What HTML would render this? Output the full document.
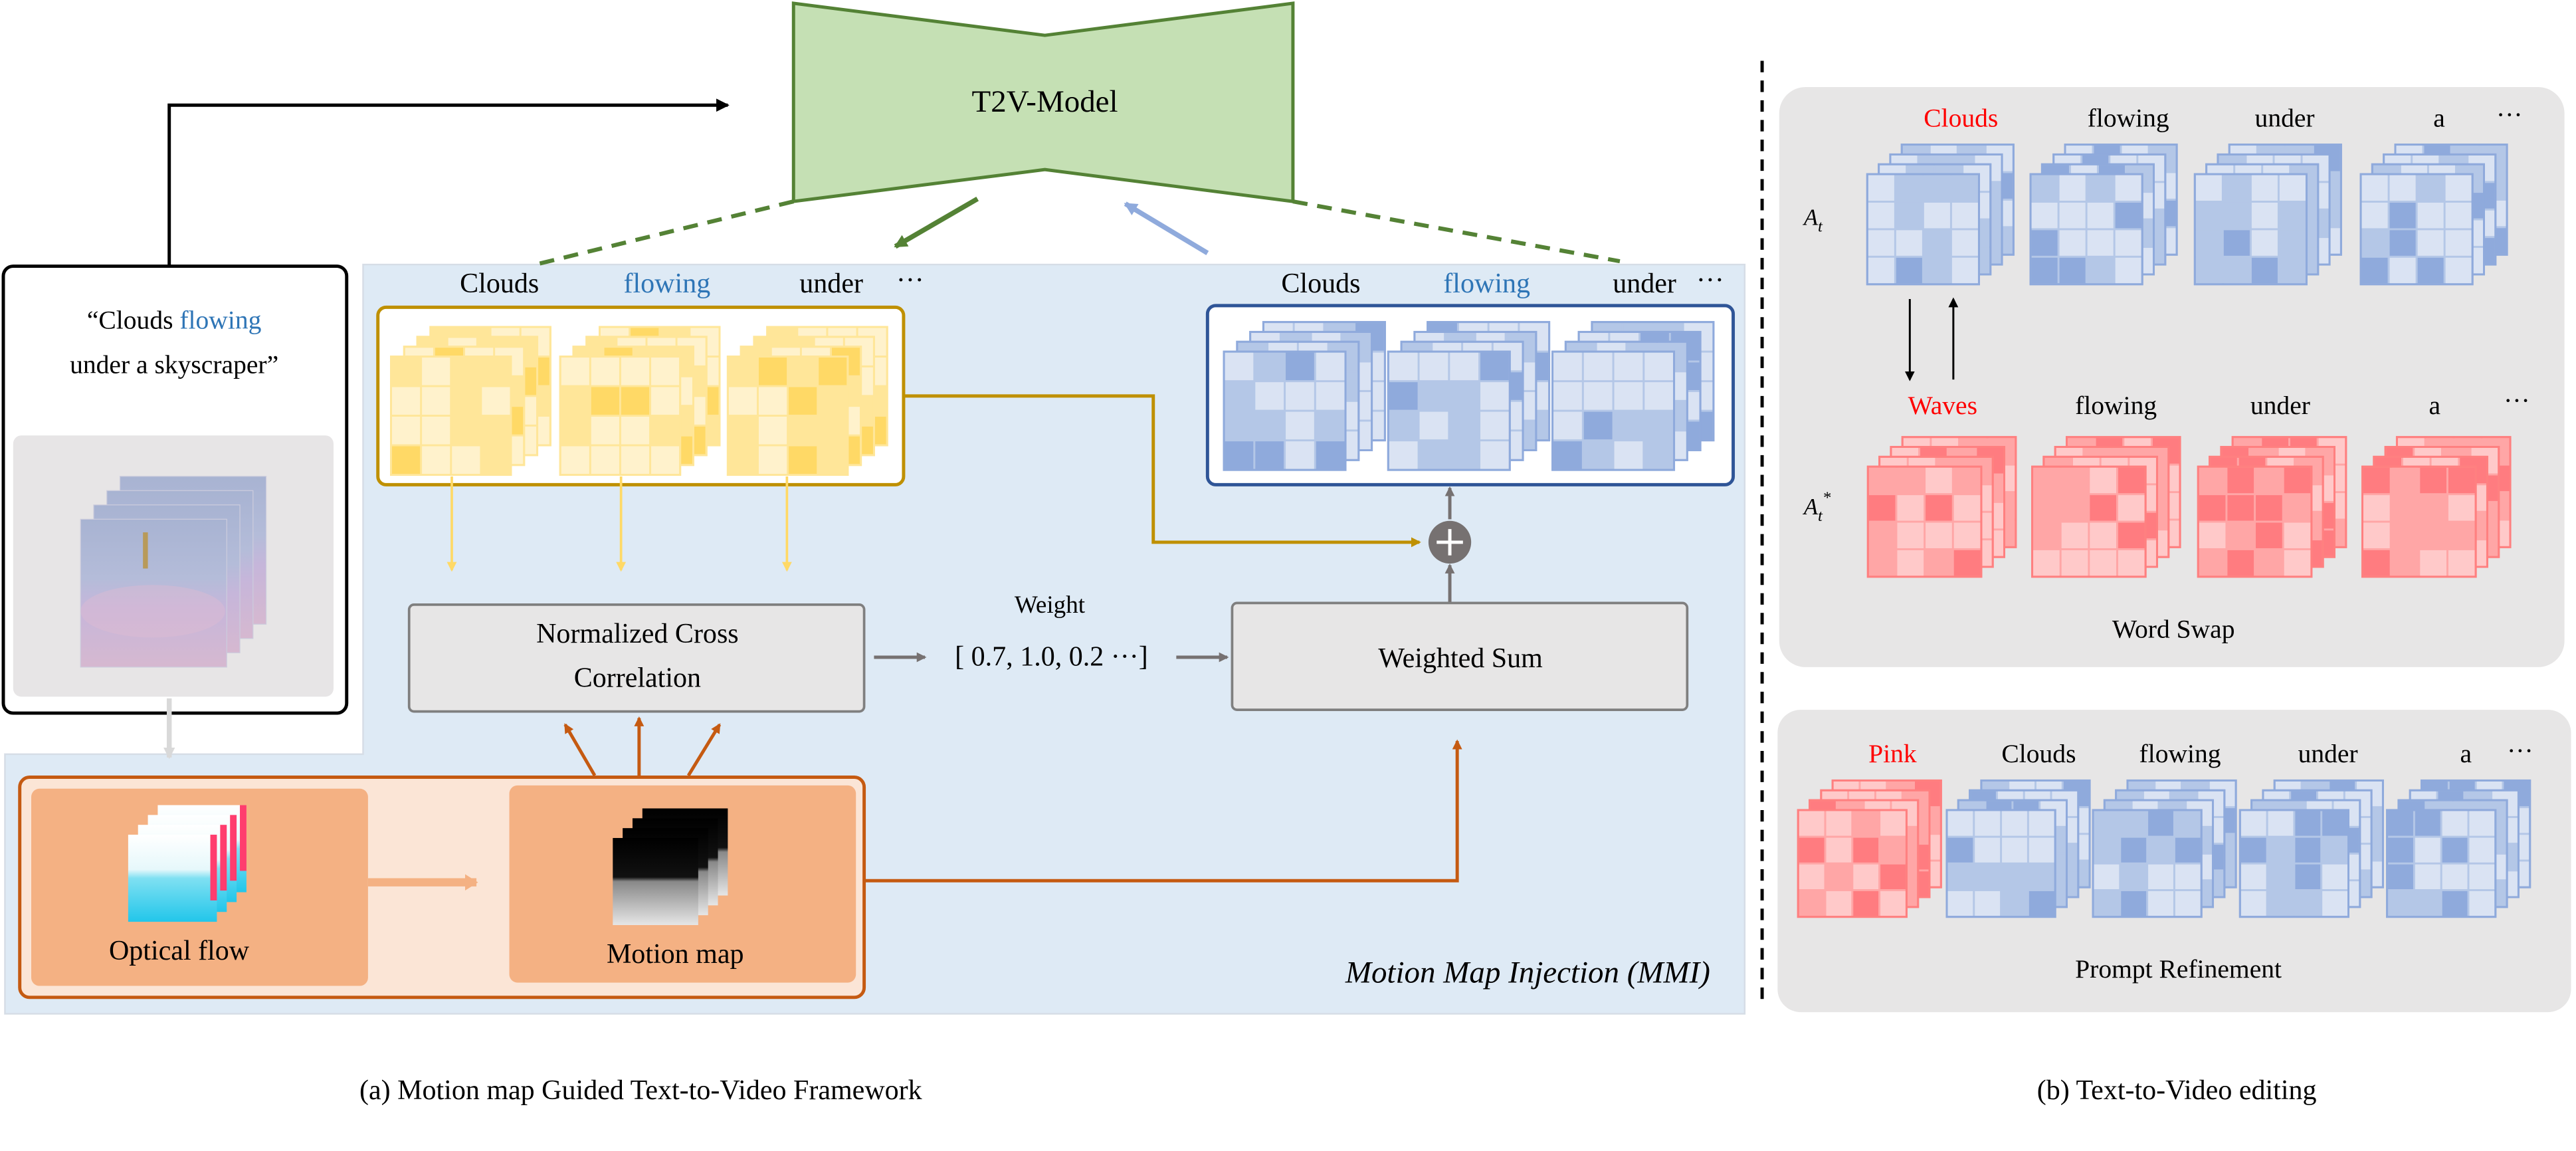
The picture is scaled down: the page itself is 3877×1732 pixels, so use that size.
<!DOCTYPE html>
<html><head><meta charset="utf-8"><style>
html,body{margin:0;padding:0;background:#fff;}
svg{display:block;font-family:"Liberation Serif","Times New Roman",Times,"DejaVu Serif",serif;}
svg text,svg tspan{font-family:"Liberation Serif","Times New Roman",Times,"DejaVu Serif",serif !important;}
</style></head><body>
<svg id="s" width="3877" height="1732" viewBox="0 0 1568 700.5" xmlns="http://www.w3.org/2000/svg">
<defs>
<marker id="ak" markerWidth="8" markerHeight="8" refX="7" refY="4" orient="auto" markerUnits="userSpaceOnUse"><path d="M0,0L8,4L0,8z" fill="#000"/></marker>
<marker id="ag" markerWidth="8" markerHeight="8" refX="7" refY="4" orient="auto" markerUnits="userSpaceOnUse"><path d="M0,0L8,4L0,8z" fill="#548235"/></marker>
<marker id="ab" markerWidth="8" markerHeight="8" refX="7" refY="4" orient="auto" markerUnits="userSpaceOnUse"><path d="M0,0L8,4L0,8z" fill="#8faadc"/></marker>
<marker id="ay" markerWidth="6" markerHeight="6" refX="5" refY="3" orient="auto" markerUnits="userSpaceOnUse"><path d="M0,0L6,3L0,6z" fill="#ffd966"/></marker>
<marker id="ao" markerWidth="6" markerHeight="6" refX="5" refY="3" orient="auto" markerUnits="userSpaceOnUse"><path d="M0,0L6,3L0,6z" fill="#c55a11"/></marker>
<marker id="au" markerWidth="6" markerHeight="6" refX="5" refY="3" orient="auto" markerUnits="userSpaceOnUse"><path d="M0,0L6,3L0,6z" fill="#bf9000"/></marker>
<marker id="ar" markerWidth="6" markerHeight="6" refX="5" refY="3" orient="auto" markerUnits="userSpaceOnUse"><path d="M0,0L6,3L0,6z" fill="#767171"/></marker>
<marker id="al" markerWidth="7" markerHeight="7" refX="6" refY="3.5" orient="auto" markerUnits="userSpaceOnUse"><path d="M0,0L7,3.5L0,7z" fill="#d9d9d9"/></marker>
<marker id="ap" markerWidth="8" markerHeight="10" refX="7" refY="5" orient="auto" markerUnits="userSpaceOnUse"><path d="M0,0L8,5L0,10z" fill="#f4b183"/></marker>
<marker id="ak2" markerWidth="6" markerHeight="6" refX="5" refY="3" orient="auto" markerUnits="userSpaceOnUse"><path d="M0,0L6,3L0,6z" fill="#000"/></marker>
<linearGradient id="sky" x1="0" y1="0" x2="0" y2="1"><stop offset="0" stop-color="#a8b3d2"/><stop offset="0.4" stop-color="#b4bcd9"/><stop offset="0.6" stop-color="#c6b6da"/><stop offset="1" stop-color="#d6b8d0"/></linearGradient>
<linearGradient id="flow" x1="0" y1="0" x2="0" y2="1"><stop offset="0" stop-color="#ffffff"/><stop offset="0.4" stop-color="#e6f8fb"/><stop offset="0.5" stop-color="#7fe0f2"/><stop offset="1" stop-color="#22c6ea"/></linearGradient>
<linearGradient id="mm" x1="0" y1="0" x2="0" y2="1"><stop offset="0" stop-color="#000"/><stop offset="0.45" stop-color="#111"/><stop offset="0.5" stop-color="#888"/><stop offset="1" stop-color="#e6e6e6"/></linearGradient>
</defs>

<path d="M221,161 H1062 V617 H3 V459 H221 Z" fill="#deeaf5" stroke="#d6dde6" stroke-width="1"/>

<polygon points="483,2 636,21.5 787,2 787,122.6 636,103.2 483,122.6" fill="#c5e0b4" stroke="#548235" stroke-width="2"/>
<text x="636" y="68" font-size="19" text-anchor="middle">T2V-Model</text>

<line x1="483" y1="122.6" x2="326" y2="161" stroke="#548235" stroke-width="2.5" stroke-dasharray="9,6"/>
<line x1="787" y1="122.6" x2="986" y2="159" stroke="#548235" stroke-width="2.5" stroke-dasharray="9,6"/>
<line x1="595" y1="121" x2="545" y2="150" stroke="#548235" stroke-width="3" marker-end="url(#ag)"/>
<line x1="735" y1="154" x2="685" y2="124" stroke="#8faadc" stroke-width="3" marker-end="url(#ab)"/>

<polyline points="103,162 103,64 443,64" fill="none" stroke="#000" stroke-width="2" marker-end="url(#ak)"/>

<rect x="2" y="162" width="209" height="272" rx="6" fill="#fff" stroke="#000" stroke-width="2"/>
<text x="106" y="200" font-size="16" text-anchor="middle">“Clouds <tspan fill="#2e75b6">flowing</tspan></text>
<text x="106" y="227" font-size="16" text-anchor="middle">under a skyscraper”</text>
<rect x="8" y="265" width="195" height="159" rx="5" fill="#e7e5e6"/>
<g id="photo"></g>
<line x1="103" y1="425" x2="103" y2="461" stroke="#d9d9d9" stroke-width="3" marker-end="url(#al)"/>

<g font-size="17">
<text x="304" y="178" text-anchor="middle">Clouds</text>
<text x="406" y="178" text-anchor="middle" fill="#2e75b6">flowing</text>
<text x="506" y="178" text-anchor="middle">under</text>
<text x="554" y="176" text-anchor="middle">···</text>
<text x="804" y="178" text-anchor="middle">Clouds</text>
<text x="905" y="178" text-anchor="middle" fill="#2e75b6">flowing</text>
<text x="1001" y="178" text-anchor="middle">under</text>
<text x="1041" y="176" text-anchor="middle">···</text>
</g>

<rect x="230" y="187" width="320" height="108" rx="5" fill="#fff" stroke="#bf9000" stroke-width="2"/>
<rect x="735" y="186" width="320" height="109" rx="5" fill="#fff" stroke="#2f5597" stroke-width="2"/>
<g id="grids"></g>

<g stroke="#ffd966" stroke-width="1.5" marker-end="url(#ay)">
<line x1="275" y1="290" x2="275" y2="347"/>
<line x1="378" y1="290" x2="378" y2="347"/>
<line x1="479" y1="290" x2="479" y2="347"/>
</g>
<polyline points="550,241 702,241 702,330 864,330" fill="none" stroke="#bf9000" stroke-width="2" marker-end="url(#au)"/>
<circle cx="882.5" cy="330" r="13" fill="#767171"/>
<path d="M882.5,322 V338 M874.5,330 H890.5" stroke="#fff" stroke-width="2"/>
<line x1="882.5" y1="316" x2="882.5" y2="297" stroke="#767171" stroke-width="2" marker-end="url(#ar)"/>
<line x1="882.5" y1="367" x2="882.5" y2="344" stroke="#767171" stroke-width="2" marker-end="url(#ar)"/>

<rect x="249" y="368" width="277" height="65" rx="3" fill="#e7e6e6" stroke="#7f7f7f" stroke-width="1.5"/>
<text x="388" y="391" font-size="17" text-anchor="middle">Normalized Cross</text>
<text x="388" y="418" font-size="17" text-anchor="middle">Correlation</text>
<text x="639" y="373" font-size="15" text-anchor="middle">Weight</text>
<text x="640" y="405" font-size="17" text-anchor="middle">[ 0.7, 1.0, 0.2 ···]</text>
<line x1="532" y1="400" x2="563" y2="400" stroke="#767171" stroke-width="2" marker-end="url(#ar)"/>
<line x1="716" y1="400" x2="747" y2="400" stroke="#767171" stroke-width="2" marker-end="url(#ar)"/>
<rect x="750" y="367" width="277" height="65" rx="3" fill="#e7e6e6" stroke="#7f7f7f" stroke-width="1.5"/>
<text x="889" y="406" font-size="17" text-anchor="middle">Weighted Sum</text>

<g stroke="#c55a11" stroke-width="2" marker-end="url(#ao)">
<line x1="362" y1="472" x2="344" y2="441"/>
<line x1="389" y1="472" x2="389" y2="437"/>
<line x1="419" y1="472" x2="438" y2="441"/>
</g>
<rect x="12" y="473" width="514" height="134" rx="6" fill="#fbe5d6" stroke="#c55a11" stroke-width="2"/>
<rect x="19" y="480" width="205" height="120" rx="5" fill="#f4b183"/>
<rect x="310" y="478" width="211" height="120" rx="5" fill="#f4b183"/>
<line x1="224" y1="537" x2="290" y2="537" stroke="#f4b183" stroke-width="5" marker-end="url(#ap)"/>
<g id="ofl"></g>
<text x="109" y="584" font-size="17" text-anchor="middle">Optical flow</text>
<text x="411" y="586" font-size="17" text-anchor="middle">Motion map</text>
<polyline points="526,536 887,536 887,451" fill="none" stroke="#c55a11" stroke-width="2" marker-end="url(#ao)"/>
<text x="1041" y="598" font-size="19" font-style="italic" text-anchor="end">Motion Map Injection (MMI)</text>

<line x1="1072.6" y1="37" x2="1072.6" y2="612" stroke="#000" stroke-width="2" stroke-dasharray="7,5"/>

<rect x="1083" y="53" width="478" height="353" rx="16" fill="#e7e6e6"/>
<rect x="1082" y="432" width="483" height="184" rx="14" fill="#e7e6e6"/>
<g id="grids2"></g>
<g font-size="16">
<text x="1193.6" y="77" text-anchor="middle" fill="#ff0000">Clouds</text>
<text x="1295.5" y="77" text-anchor="middle">flowing</text>
<text x="1390.7" y="77" text-anchor="middle">under</text>
<text x="1484.7" y="77" text-anchor="middle">a</text>
<text x="1527.5" y="75" text-anchor="middle">···</text>
<text x="1182.5" y="252" text-anchor="middle" fill="#ff0000">Waves</text>
<text x="1288" y="252" text-anchor="middle">flowing</text>
<text x="1388" y="252" text-anchor="middle">under</text>
<text x="1482" y="252" text-anchor="middle">a</text>
<text x="1532" y="249" text-anchor="middle">···</text>
<text x="1152" y="464" text-anchor="middle" fill="#ff0000">Pink</text>
<text x="1241" y="464" text-anchor="middle">Clouds</text>
<text x="1327" y="464" text-anchor="middle">flowing</text>
<text x="1417" y="464" text-anchor="middle">under</text>
<text x="1501" y="464" text-anchor="middle">a</text>
<text x="1534" y="462" text-anchor="middle">···</text>
<text x="1323" y="388" text-anchor="middle">Word Swap</text>
<text x="1326" y="595" text-anchor="middle">Prompt Refinement</text>
</g>
<text x="1098" y="137" font-size="14" font-style="italic">A<tspan font-size="10" dy="4">t</tspan></text>
<text x="1098" y="313" font-size="14" font-style="italic">A<tspan font-size="10" dy="4">t</tspan><tspan font-size="10" dy="-11">*</tspan></text>
<line x1="1162.5" y1="182" x2="1162.5" y2="231" stroke="#000" stroke-width="1.2" marker-end="url(#ak2)"/>
<line x1="1189" y1="231" x2="1189" y2="182" stroke="#000" stroke-width="1.2" marker-end="url(#ak2)"/>

<text x="390" y="669" font-size="17" text-anchor="middle">(a) Motion map Guided Text-to-Video Framework</text>
<text x="1325" y="669" font-size="17" text-anchor="middle">(b) Text-to-Video editing</text>
</svg>
<script>
var NS="http://www.w3.org/2000/svg";
function el(p,t,a){var e=document.createElementNS(NS,t);for(var k in a)e.setAttribute(k,a[k]);p.appendChild(e);return e;}
var pal={
 b:{s:"#8faadc",c:["#dae3f3","#b4c7e7","#8faadc"]},
 r:{s:"#ff8080",c:["#ffc9c9","#ffa6a6","#ff7c80"]},
 y:{s:"#ffe699",c:["#fff2cc","#ffe699","#ffd966"]}
};
var seed=7;function rnd(){seed=(seed*9301+49297)%233280;return seed/233280;}
function stack(g,x,y,w,h,n,dx,dy,p){
 var P=pal[p];
 for(var i=n-1;i>=0;i--){
  var X=x+i*dx,Y=y-i*dy;
  el(g,"rect",{x:X,y:Y,width:w,height:h,fill:P.c[1],stroke:P.s,"stroke-width":1.2});
  var cw=w/4,ch=h/4;
  for(var r=0;r<4;r++)for(var c=0;c<4;c++){
   var v=rnd();var col=v<0.45?P.c[0]:(v<0.8?P.c[1]:P.c[2]);
   el(g,"rect",{x:X+c*cw+0.6,y:Y+r*ch+0.6,width:cw-1.2,height:ch-1.2,fill:col});
  }
  el(g,"rect",{x:X,y:Y,width:w,height:h,fill:"none",stroke:P.s,"stroke-width":1.2});
 }
}
var g=document.getElementById("grids");
[238,341,443].forEach(function(x){stack(g,x,217,73,72,4,8,6,"y");});
[745,845,945].forEach(function(x){stack(g,x,214,74,72,4,8,6,"b");});
var g2=document.getElementById("grids2");
[1136.6,1236,1336,1437].forEach(function(x){stack(g2,x,106,68,67,4,7,6,"b");});
[1137,1237,1338,1438].forEach(function(x){stack(g2,x,284,69,67,4,7,6,"r");});
[1094.5,1185,1274,1363.5,1453].forEach(function(x,i){stack(g2,x,493,66,65,4,7,6,i==0?"r":"b");});
var ph=document.getElementById("photo");
for(var i=3;i>=0;i--){var X=49+i*8,Y=316-i*8.7;
 el(ph,"rect",{x:X,y:Y,width:89,height:90,fill:"url(#sky)",stroke:"#ccd","stroke-width":0.5});}
el(ph,"rect",{x:87,y:324,width:3,height:22,fill:"#b89a5a"});
el(ph,"ellipse",{cx:93,cy:372,rx:44,ry:16,fill:"#e0bcd3",opacity:0.4});
var of=document.getElementById("ofl");
for(var i=3;i>=0;i--){var X=78+i*6,Y=508-i*6;
 el(of,"rect",{x:X,y:Y,width:54,height:53,fill:"url(#flow)"});
 el(of,"rect",{x:X+50,y:Y,width:4,height:40,fill:"#ff3d6e"});}
for(var i=3;i>=0;i--){var X=373+i*6,Y=510-i*6;
 el(of,"rect",{x:X,y:Y,width:52,height:53,fill:"url(#mm)"});}
</script>
</body></html>
